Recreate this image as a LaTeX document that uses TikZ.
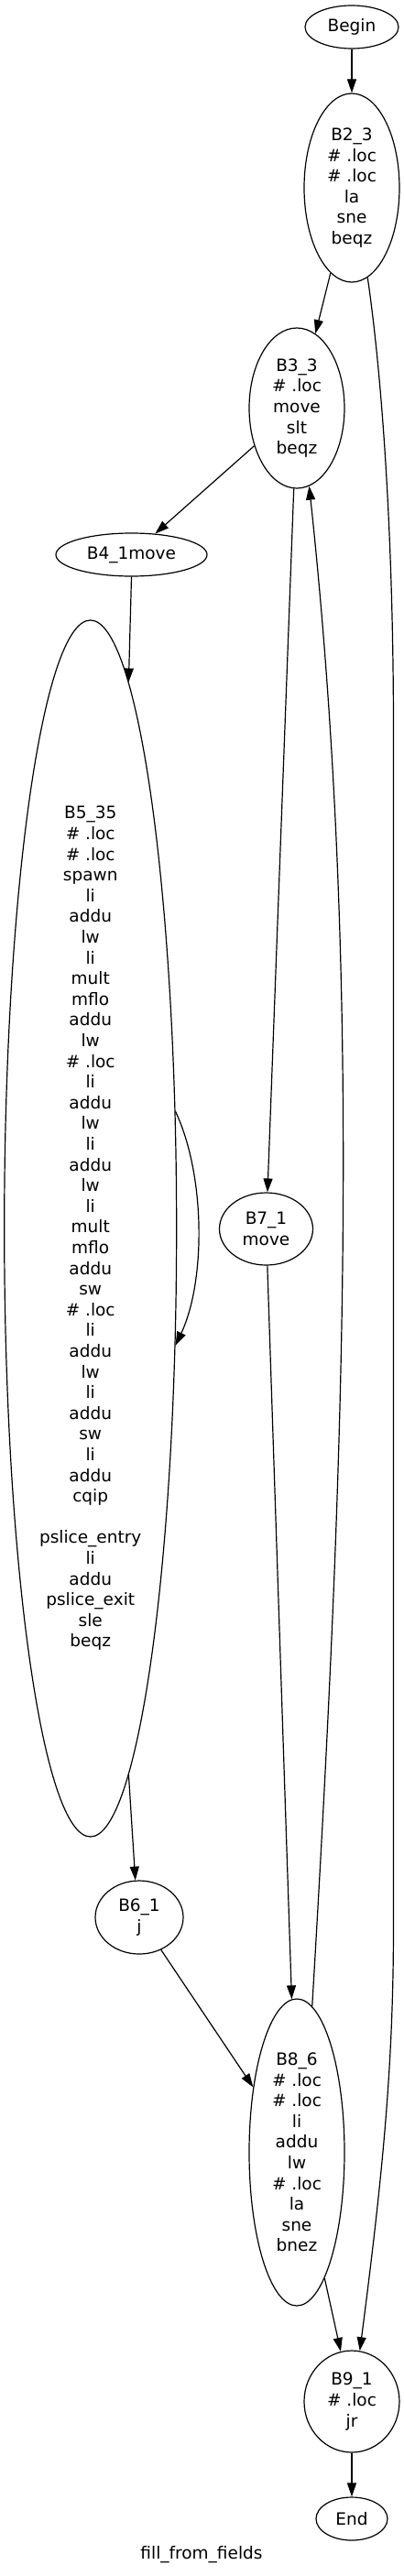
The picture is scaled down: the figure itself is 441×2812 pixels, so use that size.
\documentclass[tikz,border=0pt]{standalone}
\usepackage{fontspec}
\setmainfont{DejaVu Sans}
\usepackage{tikz}
\usetikzlibrary{arrows.meta,shapes.geometric}
\tikzset {>={Triangle[length=15pt,width=10pt]}}
\tikzset{blk/.style={draw,ellipse,inner sep=0pt,align=center,line width=1.2pt,
  font=\fontsize{18.5}{22.6}\selectfont}}

\begin{document}
\begin{tikzpicture}[x=1pt,y=-1pt,line width=1.2pt]
\useasboundingbox (0,0) rectangle (441,2812);
\node[blk,minimum width=102pt,minimum height=47pt] (start) at (384,29.5) {Begin};
\node[blk,minimum width=104pt,minimum height=206pt] (b2) at (384,205) {B2\_3\\\# .loc\\\# .loc\\la\\sne\\beqz};
\node[blk,minimum width=104pt,minimum height=175pt] (b3) at (324,445.5) {B3\_3\\\# .loc\\move\\slt\\beqz};
\node[blk,minimum width=165pt,minimum height=47pt] (b4) at (143.5,605.5) {B4\_1move};
\node[blk,minimum width=188pt,minimum height=1328pt] (b5) at (98.7,1341) {B5\_35\\\# .loc\\\# .loc\\spawn\\li\\addu\\lw\\li\\mult\\mflo\\addu\\lw\\\# .loc\\li\\addu\\lw\\li\\addu\\lw\\li\\mult\\mflo\\addu\\sw\\\# .loc\\li\\addu\\lw\\li\\addu\\sw\\li\\addu\\cqip\\\mbox{}\\pslice\_entry\\li\\addu\\pslice\_exit\\sle\\beqz};
\node[blk,minimum width=102pt,minimum height=79pt] (b7) at (290.5,1341.5) {B7\_1\\move};
\node[blk,minimum width=96pt,minimum height=80pt] (b6) at (152,2093) {B6\_1\\j};
\node[blk,minimum width=104pt,minimum height=335pt] (b8) at (324,2349.5) {B8\_6\\\# .loc\\\# .loc\\li\\addu\\lw\\\# .loc\\la\\sne\\bnez};
\node[blk,minimum width=104pt,minimum height=111pt] (b9) at (384,2621.5) {B9\_1\\\# .loc\\jr};
\node[blk,minimum width=78pt,minimum height=47pt] (stop) at (384,2749.5) {End};
\node[font=\fontsize{18.5}{22.6}\selectfont] (title) at (220,2789) {fill\_from\_fields};

\coordinate (r1) at (429.5,800);
\coordinate (r2) at (429.5,2100);

\draw[->] (start) -- (b2);
\draw[->] (b2) -- (b3);
\draw[->] (b2.280) .. controls +(17.4,120) and +(0,-200) .. (r1) -- (r2) .. controls +(0,150) and +(26,-200) .. (b9.81);
\draw[->] (b3) -- (b4);
\draw[->] (b3) -- (b7);
\draw[->] (b4.south) -- (b5.86.4);
\draw[->] (b5.54) .. controls +(33,70) and +(33,-70) .. (b5.306);
\draw[->] (b5.274) -- (b6.96);
\draw[->] (b7) -- (b8);
\draw[->] (b6) -- (b8);
\draw[->] (b8.84) .. controls +(33,-559) and +(60,559) .. (b3.279);
\draw[->] (b8) -- (b9);
\draw[->] (b9) -- (stop);
\end{tikzpicture}
\end{document}
